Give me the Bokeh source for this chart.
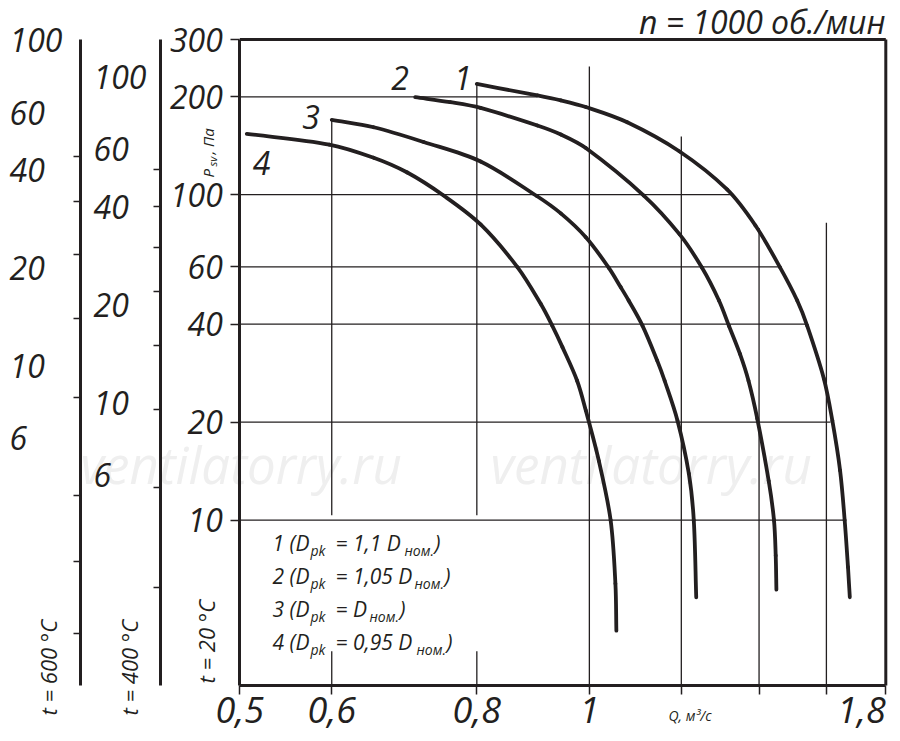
import math
from bokeh.plotting import figure
from bokeh.models import Range1d, LogAxis, FixedTicker, CustomJSTickFormatter, Label
from bokeh.embed import file_html
from bokeh.resources import INLINE

INK = "#231f20"
FONT = "Open Sans"

# fan curves: Q, m3/s and Psv, Pa (t = 20 C, n = 1000 rpm)
q1 = [0.800, 0.902, 0.945, 0.993, 1.078, 1.196, 1.314, 1.390, 1.459, 1.510, 1.540,
      1.592, 1.619, 1.644, 1.659, 1.670, 1.676]
p1 = [219, 202, 195, 186, 167, 135.8, 103.8, 80.4, 59.9, 47.3, 39.6,
      27.2, 20.2, 14.2, 10.0, 7.16, 5.79]
q2 = [0.708, 0.759, 0.806, 0.902, 0.945, 0.993, 1.114, 1.196, 1.250, 1.293, 1.319,
      1.348, 1.371, 1.395, 1.427, 1.442, 1.447, 1.449]
p2 = [199.4, 192.5, 184.8, 163.2, 153.1, 139.1, 99.4, 75.5, 59.7, 47.3, 39.5,
      32.4, 26.8, 20.5, 13.2, 10.0, 7.78, 6.11]
q3 = [0.600, 0.652, 0.720, 0.806, 0.901, 0.945, 0.993, 1.039, 1.064, 1.081, 1.111,
      1.144, 1.161, 1.191, 1.218, 1.230, 1.236]
p3 = [169.9, 161.2, 145.2, 126.5, 99.1, 87.6, 74.0, 59.7, 52.0, 47.3, 39.6,
      30.9, 26.8, 20.2, 13.9, 10.0, 5.79]
q4 = [0.507, 0.597, 0.652, 0.697, 0.749, 0.806, 0.867, 0.908, 0.929, 0.948, 0.976,
      0.993, 1.019, 1.043, 1.053, 1.055]
p4 = [153.9, 142.6, 129.9, 117.0, 99.4, 81.0, 59.9, 46.2, 39.6, 34.0, 26.8,
      21.7, 15.2, 10.0, 6.37, 4.57]

# grid pieces as drawn on the original
grid_p = [200, 100, 60, 40, 20, 10]
grid_q_end = [0.902, 1.323, 1.456, 1.535, 1.613, 1.655]
vert_q = [0.6, 0.8, 1.0, 1.2, 1.4, 1.6]
vert_p_top = [170, 220, 248, 151, 79, 82]
vert_p_bottom = [10.35, 10.35, 3.1, 3.1, 3.1, 3.1]
stub_q = [0.6, 0.8]
stub_p_top = [3.95, 3.95]

q_ticks = [0.5, 0.6, 0.8, 1.0]
q_minor = [1.2, 1.4, 1.6, 1.8]
p_ticks = [10, 20, 40, 60, 100, 200, 300]

# pressure scales for hot air (density ratio 293 K / T)
r400 = 293 / 673
r600 = 293 / 873
t400_labels = [100, 60, 40, 20, 10, 6]
t400_ticks = [52, 40, 30, 22, 15, 9.5, 5.5, 2.7]
t600_labels = [100, 60, 40, 20, 10, 6]
t600_ticks = [44, 32, 22, 14, 8, 4, 2.5, 1.5]

curve_names = ["1", "2", "3", "4"]
name_q = [0.778, 0.687, 0.576, 0.522]
name_p = [229, 229, 173, 125]
legend_k = ["1,1 ", "1,05 ", "", "0,95 "]

Q0, Q1 = 0.5, 1.8
P0, P1 = 3.1, 300

# the frame covers the whole canvas; the chart box sits inside it
W, H = 896, 736
XL, XR, YT, YB = 239.3, 885.3, 39.0, 685.0
dec_x = (XR - XL) / math.log10(Q1 / Q0)
dec_y = (YB - YT) / math.log10(P1 / P0)
x_range = Range1d(Q0 * 10 ** (-XL / dec_x), Q0 * 10 ** ((W - XL) / dec_x))
y_range = Range1d(P0 / 10 ** ((H - YB) / dec_y), P1 * 10 ** (YT / dec_y))

p = figure(x_axis_type="log", y_axis_type="log", x_range=x_range, y_range=y_range,
           frame_width=W, frame_height=H,
           min_border_left=0, min_border_right=0, min_border_top=0, min_border_bottom=0,
           output_backend="svg", toolbar_location=None)
p.grid.visible = False
p.outline_line_color = None
p.background_fill_color = "white"


def sx(px):
    return px


def sy(py):
    return H - py


def txt(x, y, text, size, **kw):
    opts = dict(x=x, y=y, text=text, text_font=FONT, text_font_size=f"{size}px",
                text_font_style="italic", text_color=INK)
    opts.update(kw)
    lab = Label(**opts)
    p.add_layout(lab)
    return lab


def bezier_through(qs, ps):
    # cubic pieces through every read point, tangents from neighbours (chord-length weighted),
    # worked out in screen-proportional log coordinates
    X = [math.log10(v) * dec_x for v in qs]
    Y = [math.log10(v) * dec_y for v in ps]
    n = len(X)
    t = [0.0]
    for i in range(1, n):
        t.append(t[-1] + math.hypot(X[i] - X[i - 1], Y[i] - Y[i - 1]))
    mx, my = [], []
    for i in range(n):
        a, b = max(i - 1, 0), min(i + 1, n - 1)
        dt = t[b] - t[a]
        mx.append((X[b] - X[a]) / dt)
        my.append((Y[b] - Y[a]) / dt)
    seg = {k: [] for k in ("x0", "y0", "x1", "y1", "cx0", "cy0", "cx1", "cy1")}
    for i in range(n - 1):
        h = (t[i + 1] - t[i]) / 3
        seg["x0"].append(qs[i])
        seg["y0"].append(ps[i])
        seg["x1"].append(qs[i + 1])
        seg["y1"].append(ps[i + 1])
        seg["cx0"].append(10 ** ((X[i] + mx[i] * h) / dec_x))
        seg["cy0"].append(10 ** ((Y[i] + my[i] * h) / dec_y))
        seg["cx1"].append(10 ** ((X[i + 1] - mx[i + 1] * h) / dec_x))
        seg["cy1"].append(10 ** ((Y[i + 1] - my[i + 1] * h) / dec_y))
    return seg


# watermark
for wx in (80, 490):
    txt(sx(wx), sy(463), "ventilatorry.ru", 51, x_units="screen", y_units="screen",
        text_color="#efefef", text_baseline="alphabetic", level="underlay")

# grid
p.segment(x0=[Q0] * len(grid_p), y0=grid_p, x1=grid_q_end, y1=grid_p, line_color=INK, line_width=1.3)
p.segment(x0=vert_q, y0=vert_p_bottom, x1=vert_q, y1=vert_p_top, line_color=INK, line_width=1.3)
p.segment(x0=stub_q, y0=[P0] * len(stub_q), x1=stub_q, y1=stub_p_top, line_color=INK, line_width=1.3)
# top and right edges of the chart box
p.segment(x0=[Q0, Q1], y0=[P1, P0], x1=[Q1, Q1], y1=[P1, P1], line_color=INK, line_width=3)

# curves
for qs, ps in ((q1, p1), (q2, p2), (q3, p3), (q4, p4)):
    p.bezier(**bezier_through(qs, ps), line_color=INK, line_width=3.8, line_cap="round")

for name, q, pv in zip(curve_names, name_q, name_p):
    txt(q, pv, name, 32, text_align="center", text_baseline="middle")

# main axes
fmt = CustomJSTickFormatter(code="return String(tick).replace('.', ',')")
xa = p.xaxis[0]
xa.ticker = FixedTicker(ticks=q_ticks, minor_ticks=q_minor)
xa.fixed_location = P0
xa.bounds = (Q0, Q1)
ya = p.yaxis[0]
ya.ticker = FixedTicker(ticks=p_ticks)
ya.fixed_location = Q0
ya.bounds = (P0, P1)
for ax in (xa, ya):
    ax.formatter = fmt
    ax.axis_line_color = INK
    ax.axis_line_width = 3
    ax.major_tick_in = 0
    ax.major_tick_out = 9
    ax.major_tick_line_color = INK
    ax.major_tick_line_width = 1.5
    ax.minor_tick_in = 0
    ax.minor_tick_out = 9
    ax.minor_tick_line_color = INK
    ax.minor_tick_line_width = 1.5
    ax.major_label_text_font = FONT
    ax.major_label_text_font_style = "italic"
    ax.major_label_text_color = INK
xa.major_label_text_font_size = "36px"
ya.major_label_text_font_size = "32px"
xa.major_label_standoff = 2
ya.major_label_standoff = 8

txt(Q1, sy(696), "1,8", 36, y_units="screen", text_align="right", text_baseline="top")
txt(sx(668), sy(705), "Q, м³/с", 14, x_units="screen", y_units="screen", text_baseline="top")

# hot air pressure scales
p.extra_y_ranges = {
    "t400": Range1d(y_range.start * r400, y_range.end * r400),
    "t600": Range1d(y_range.start * r600, y_range.end * r600),
}
for name, page_x, ratio, ticks in (("t400", 160, r400, t400_ticks), ("t600", 80, r600, t600_ticks)):
    ax = LogAxis(y_range_name=name, fixed_location=Q0 * 10 ** ((page_x - XL) / dec_x),
                 bounds=(P0 * ratio, P1 * ratio),
                 ticker=FixedTicker(ticks=[], minor_ticks=ticks),
                 axis_line_color=INK, axis_line_width=3,
                 major_tick_in=0, major_tick_out=0,
                 minor_tick_in=0, minor_tick_out=7,
                 minor_tick_line_color=INK, minor_tick_line_width=1.5,
                 major_label_text_alpha=0)
    p.add_layout(ax, "left")

for name, page_x, labels in (("t400", 93, t400_labels), ("t600", 9, t600_labels)):
    for v in labels:
        txt(sx(page_x), v, str(v), 32, x_units="screen", y_range_name=name,
            text_align="left", text_baseline="middle")

# vertical captions
for page_x, page_y, text in ((205, 683, "t = 20 °C"), (128, 715, "t = 400 °C"), (47, 715, "t = 600 °C")):
    txt(sx(page_x), sy(page_y), text, 22, x_units="screen", y_units="screen",
        angle=math.pi / 2, text_align="left", text_baseline="middle")

txt(sx(207), sy(177), "P", 15, x_units="screen", y_units="screen",
    angle=math.pi / 2, text_align="left", text_baseline="middle")
txt(sx(212), sy(166), "sv", 11, x_units="screen", y_units="screen",
    angle=math.pi / 2, text_align="left", text_baseline="middle")
txt(sx(207), sy(154), ", Па", 15, x_units="screen", y_units="screen",
    angle=math.pi / 2, text_align="left", text_baseline="middle")

# title
txt(sx(885), sy(21), "n = 1000 об./мин", 32, x_units="screen", y_units="screen",
    text_align="right", text_baseline="middle")

# legend
line_base = [542, 575, 608, 641]
nom_x = [404, 414, 369, 416]
for i, k in enumerate(legend_k):
    by = line_base[i]
    common = dict(x_units="screen", y_units="screen", text_baseline="alphabetic")
    txt(sx(272), sy(by), f"{i + 1} (D", 21, **common)
    txt(sx(310), sy(by + 8), "pk", 14, **common)
    txt(sx(335), sy(by), f"= {k}D", 21, **common)
    txt(sx(nom_x[i]), sy(by + 8), "ном.", 14, **common)
    txt(sx(nom_x[i] + 30), sy(by), ")", 21, **common)

open("out.html", "w").write(file_html(p, INLINE))
